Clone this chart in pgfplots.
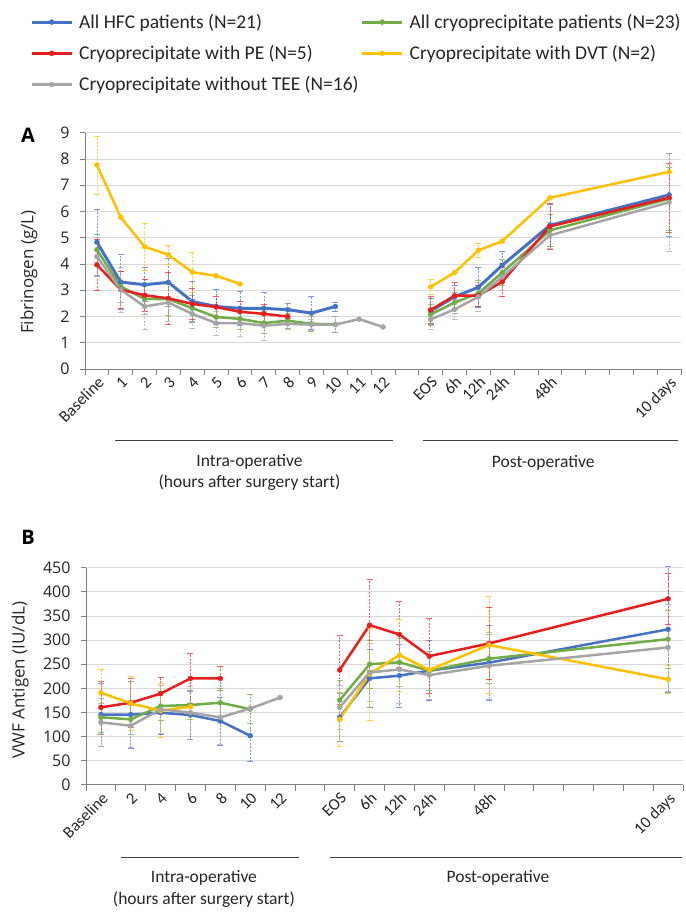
\documentclass[border=0pt]{standalone}
\usepackage{fontspec}
\setmainfont{Carlito}
\newfontfamily\osans{Open Sans}
\usepackage{pgfplots}
\pgfplotsset{compat=1.18}
\usepackage{pgfplotstable}

\definecolor{cblue}{HTML}{4472C4}
\definecolor{cgreen}{HTML}{70AD47}
\definecolor{cred}{HTML}{E81E1E}
\definecolor{cyellow}{HTML}{FFC000}
\definecolor{cgray}{HTML}{A5A5A5}
\definecolor{gridc}{HTML}{D9D9D9}
\definecolor{axc}{HTML}{808080}

% ---------------- Panel A data ----------------
\pgfplotstableread{
x y e
0 4.83 1.27
1 3.31 1.05
2 3.21 0.65
3 3.30 0.90
4 2.57 0.78
5 2.38 0.67
6 2.31 0.64
7 2.31 0.60
8 2.26 0.25
9 2.13 0.62
10 2.38 0.17
11 nan 0
14 2.21 0.50
15 2.75 0.45
16 3.11 0.75
17 3.95 0.55
19 5.47 0.80
24 6.63 1.57
}\blueA
\pgfplotstableread{
x y e
0 4.54 0.6
1 3.14 0.6
2 2.67 0.6
3 2.66 0.6
4 2.32 0.5
5 1.98 0.4
6 1.91 0.4
7 1.75 0.4
8 1.84 0.3
9 1.72 0.3
10 1.70 0.3
11 nan 0
14 2.08 0.4
15 2.53 0.4
16 2.88 0.5
17 3.67 0.5
19 5.28 0.6
24 6.48 1.2
}\greenA
\pgfplotstableread{
x y e
0 3.97 0.97
1 3.02 0.70
2 2.81 0.60
3 2.69 1.00
4 2.48 0.58
5 2.36 0.40
6 2.18 0.40
7 2.10 0.35
8 2.00 0.30
11 nan 0
14 2.25 0.50
15 2.79 0.50
16 2.80 0.40
17 3.32 0.57
19 5.43 0.87
24 6.52 1.30
}\redA
\pgfplotstableread{
x y e
0 7.77 1.10
1 5.78 0
2 4.66 0.90
3 4.35 0.37
4 3.69 0.75
5 3.55 0
6 3.24 0
11 nan 0
14 3.13 0.27
15 3.67 0
16 4.52 0.28
17 4.87 0
19 6.52 0
24 7.51 0
}\yellowA
\pgfplotstableread{
x y e
0 4.28 0.75
1 3.02 0.85
2 2.38 0.85
3 2.53 0.70
4 2.10 0.55
5 1.75 0.45
6 1.75 0.50
7 1.65 0.55
8 1.72 0.20
9 1.69 0.20
10 1.69 0.30
11 1.90 0
12 1.60 0
13 nan 0
14 1.89 0.39
15 2.27 0.37
16 2.75 0.55
17 3.51 0.50
19 5.09 0.50
24 6.35 1.85
}\grayA

% ---------------- Panel B data ----------------
\pgfplotstableread{
x y e
0 145.5 65
1 145.5 70
2 149.6 45
3 144.8 50
4 132.3 50
5 102.0 54
7 nan 0
8 140.0 50
9 220.7 60
10 226.3 65
11 236.6 62
13 253.2 78
19 322.3 130
}\blueB
\pgfplotstableread{
x y e
0 140.0 30
1 135.8 30
2 163.4 30
3 165.5 30
4 170.3 30
5 157.0 30
7 nan 0
8 175.8 40
9 250.0 50
10 254.0 50
11 236.6 40
13 261.4 50
19 302.0 60
}\greenB
\pgfplotstableread{
x y e
0 160.6 55
1 170.3 50
2 189.0 33
3 220.7 51
4 220.7 24
7 nan 0
8 238.0 72
9 331.0 94
10 311.7 68
11 266.8 78
13 293.0 75
19 385.6 52
}\redB
\pgfplotstableread{
x y e
0 191.0 49
1 169.0 56
2 153.7 56
3 162.0 0
7 nan 0
8 135.8 56
9 229.7 95
10 269.0 75
11 238.0 0
13 289.8 100
19 218.6 29
}\yellowB
\pgfplotstableread{
x y e
0 129.6 50
1 122.6 45
2 156.5 50
3 149.6 55
4 140.0 55
5 158.2 0
6 181.0 0
7 nan 0
8 160.6 45
9 233.0 60
10 239.2 70
11 227.5 50
13 246.8 70
19 284.8 90
}\grayB

\pgfplotsset{
  common/.style={
    scale only axis,
    clip=false,
    axis lines*=left,
    axis line style={axc, line width=0.8pt},
    tick align=outside,
    major tick length=5pt,
    minor tick length=6pt,
    tick style={axc, line width=0.8pt},
    major x tick style={draw=none},
    ymajorgrids,
    grid style={gridc, line width=0.8pt},
    unbounded coords=jump,
    /pgf/number format/assume math mode=true,
    yticklabel style={font=\osans\fontsize{16}{19}\selectfont, text=black!85, xshift=-7pt},
    xticklabel style={font=\fontsize{16.5}{19}\selectfont, text=black!85, rotate=45, anchor=north east, inner sep=1pt},
    ylabel style={font=\osans\fontsize{17}{20}\selectfont, text=black!85, anchor=center},
  },
  ser/.style={color=#1, line width=2.5pt, mark=*, mark size=2.5pt,
    mark options={solid, fill=#1, line width=0.4pt}},
  err/.style={
    error bars/y dir=both,
    error bars/y explicit,
    error bars/error bar style={line width=0.6pt, dash pattern=on 2pt off 1.5pt, opacity=0.7},
    error bars/error mark options={rotate=90, mark size=3pt, line width=0.6pt, solid, opacity=0.7}},
  legend image code/.code={\draw[mark repeat=2,mark phase=2,#1]
     plot coordinates {(0pt,0pt) (20pt,0pt) (40pt,0pt)};},
}

\begin{document}
\begin{tikzpicture}
\path[use as bounding box] (0pt,0pt) rectangle (685pt,915pt);

% ================= Panel A =================
\begin{axis}[common,
  at={(85pt,546pt)}, anchor=south west,
  width=596pt, height=236.3pt,
  xmin=-0.5, xmax=24.5, ymin=0, ymax=9,
  ytick={0,1,...,9},
  xtick={0,1,2,3,4,5,6,7,8,9,10,11,12,14,15,16,17,19,24},
  xticklabels={Baseline,1,2,3,4,5,6,7,8,9,10,11,12,EOS,6h,12h,24h,48h,10 days},
  minor xtick={-0.5,0.5,...,24.5},
  ylabel={Fibrinogen (g/L)},
  ylabel style={at={(axis description cs:-0.094,0.41)}},
  legend columns=2,
  legend cell align=left,
  legend style={at={(axis description cs:-0.0923,1.511)}, anchor=north west,
    draw=none, fill=none, font=\fontsize{19.5}{22}\selectfont, text=black!85,
    row sep=11.5pt, inner sep=0pt,
    /tikz/every odd column/.append style={column sep=4pt},
    /tikz/every even column/.append style={column sep=0pt}},
]
\addlegendimage{ser=cblue, line width=3pt}
\addlegendentry{All HFC patients (N=21)}
\addlegendimage{ser=cgreen, line width=3pt}
\addlegendentry{All cryoprecipitate patients (N=23)}
\addlegendimage{ser=cred, line width=3pt}
\addlegendentry{Cryoprecipitate with PE (N=5)}
\addlegendimage{ser=cyellow, line width=3pt}
\addlegendentry{Cryoprecipitate with DVT (N=2)}
\addlegendimage{ser=cgray, line width=3pt}
\addlegendentry{Cryoprecipitate without TEE (N=16)}

\addplot[ser=cblue, line width=3pt, err, forget plot] table[x=x, y=y, y error=e]{\blueA};
\addplot[ser=cgreen, err, forget plot] table[x=x, y=y, y error=e]{\greenA};
\addplot[ser=cred, err, forget plot] table[x=x, y=y, y error=e]{\redA};
\addplot[ser=cyellow, err, forget plot] table[x=x, y=y, y error=e]{\yellowA};
\addplot[ser=cgray, err, forget plot] table[x=x, y=y, y error=e]{\grayA};

\draw[black!75, line width=1pt] (axis cs:0.77,-2.74) -- (axis cs:12.43,-2.74);
\draw[black!75, line width=1pt] (axis cs:13.69,-2.74) -- (axis cs:24.39,-2.74);
\node[font=\fontsize{17.5}{20}\selectfont, text=black!85] at (axis cs:6.4,-3.54) {Intra-operative};
\node[font=\fontsize{17.5}{20}\selectfont, text=black!85] at (axis cs:6.4,-4.34) {(hours after surgery start)};
\node[font=\fontsize{17.5}{20}\selectfont, text=black!85] at (axis cs:18.72,-3.58) {Post-operative};
\end{axis}

\node[font=\osans\fontsize{20}{24}\selectfont\bfseries] at (28pt,780pt) {A};

% ================= Panel B =================
\begin{axis}[common,
  at={(86pt,130.1pt)}, anchor=south west,
  width=597pt, height=217.2pt,
  xmin=-0.5, xmax=19.5, ymin=0, ymax=450,
  ytick={0,50,...,450},
  xtick={0,1,2,3,4,5,6,8,9,10,11,13,19},
  xticklabels={Baseline,2,4,6,8,10,12,EOS,6h,12h,24h,48h,10 days},
  minor xtick={-0.5,0.5,...,19.5},
  ylabel={VWF Antigen (IU/dL)},
  ylabel style={at={(axis description cs:-0.11,0.483)}},
]
\addplot[ser=cblue, err] table[x=x, y=y, y error=e]{\blueB};
\addplot[ser=cgreen, err] table[x=x, y=y, y error=e]{\greenB};
\addplot[ser=cred, err] table[x=x, y=y, y error=e]{\redB};
\addplot[ser=cyellow, err] table[x=x, y=y, y error=e]{\yellowB};
\addplot[ser=cgray, err] table[x=x, y=y, y error=e]{\grayB};

\draw[black!75, line width=1pt] (axis cs:0.67,-149.4) -- (axis cs:6.62,-149.4);
\draw[black!75, line width=1pt] (axis cs:7.66,-149.4) -- (axis cs:19.46,-149.4);
\node[font=\fontsize{17.5}{20}\selectfont, text=black!85] at (axis cs:3.45,-192.9) {Intra-operative};
\node[font=\fontsize{17.5}{20}\selectfont, text=black!85] at (axis cs:3.45,-238.3) {(hours after surgery start)};
\node[font=\fontsize{17.5}{20}\selectfont, text=black!85] at (axis cs:13.3,-192.9) {Post-operative};
\end{axis}

\node[font=\osans\fontsize{20}{24}\selectfont\bfseries] at (28pt,378pt) {B};
\end{tikzpicture}
\end{document}
